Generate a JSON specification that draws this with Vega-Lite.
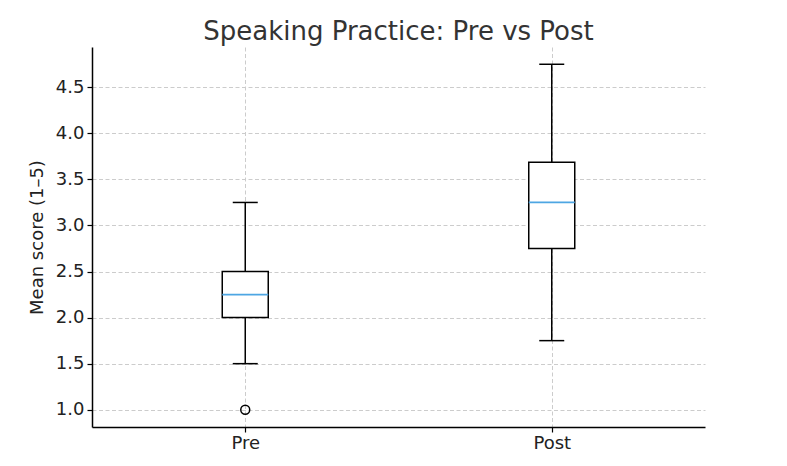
{
  "$schema": "https://vega.github.io/schema/vega-lite/v6.json",
  "autosize": "none",
  "width": 613,
  "height": 380,
  "padding": {"left": 92, "top": 47, "right": 82, "bottom": 39},
  "background": "white",
  "config": {
    "view": {"stroke": null},
    "font": "DejaVu Sans",
    "axis": {
      "domainColor": "#000000",
      "domainWidth": 1.5,
      "tickColor": "#000000",
      "tickWidth": 1.2,
      "tickSize": 5,
      "labelFont": "DejaVu Sans",
      "labelFontSize": 18,
      "labelColor": "#222222",
      "titleFont": "DejaVu Sans",
      "titleFontSize": 18,
      "titleFontWeight": "normal",
      "titleColor": "#222222",
      "grid": true,
      "gridColor": "#cccccc",
      "gridWidth": 1,
      "gridDash": [4, 2.5]
    }
  },
  "title": {
    "text": "Speaking Practice: Pre vs Post",
    "font": "DejaVu Sans",
    "fontSize": 26,
    "fontWeight": "normal",
    "color": "#333333",
    "anchor": "middle",
    "offset": 2
  },
  "datasets": {
    "boxes": [
      {"group": "Pre", "lower": 1.5, "q1": 2.0, "median": 2.25, "q3": 2.5, "upper": 3.25},
      {"group": "Post", "lower": 1.75, "q1": 2.75, "median": 3.25, "q3": 3.6875, "upper": 4.75}
    ],
    "outliers": [
      {"group": "Pre", "value": 1.0}
    ]
  },
  "encoding": {
    "x": {
      "field": "group",
      "type": "nominal",
      "sort": ["Pre", "Post"],
      "scale": {"type": "point", "padding": 0.5, "domain": ["Pre", "Post"]},
      "axis": {"title": null, "labelAngle": 0, "labelPadding": 2}
    }
  },
  "layer": [
    {
      "data": {"name": "boxes"},
      "mark": {"type": "rule", "color": "#000000", "strokeWidth": 1.5},
      "encoding": {
        "y": {
          "field": "lower",
          "type": "quantitative",
          "scale": {"domain": [0.8125, 4.9375], "nice": false, "zero": false},
          "axis": {
            "title": "Mean score (1–5)",
            "values": [1.0, 1.5, 2.0, 2.5, 3.0, 3.5, 4.0, 4.5],
            "format": ".1f",
            "labelPadding": 3,
            "titlePadding": 9
          }
        },
        "y2": {"field": "q1"}
      }
    },
    {
      "data": {"name": "boxes"},
      "mark": {"type": "rule", "color": "#000000", "strokeWidth": 1.5},
      "encoding": {
        "y": {"field": "q3", "type": "quantitative"},
        "y2": {"field": "upper"}
      }
    },
    {
      "data": {"name": "boxes"},
      "mark": {"type": "bar", "size": 46, "fill": "white", "stroke": "#000000", "strokeWidth": 1.5},
      "encoding": {
        "y": {"field": "q1", "type": "quantitative"},
        "y2": {"field": "q3"}
      }
    },
    {
      "data": {"name": "boxes"},
      "mark": {"type": "tick", "size": 46, "thickness": 1.8, "color": "#4ea6e3", "opacity": 1},
      "encoding": {
        "y": {"field": "median", "type": "quantitative"}
      }
    },
    {
      "data": {"name": "boxes"},
      "mark": {"type": "tick", "size": 25, "thickness": 1.5, "color": "#000000", "opacity": 1},
      "encoding": {
        "y": {"field": "lower", "type": "quantitative"}
      }
    },
    {
      "data": {"name": "boxes"},
      "mark": {"type": "tick", "size": 25, "thickness": 1.5, "color": "#000000", "opacity": 1},
      "encoding": {
        "y": {"field": "upper", "type": "quantitative"}
      }
    },
    {
      "data": {"name": "outliers"},
      "mark": {"type": "point", "shape": "circle", "size": 80, "filled": false, "stroke": "#000000", "strokeWidth": 1.5, "opacity": 1},
      "encoding": {
        "y": {"field": "value", "type": "quantitative"}
      }
    }
  ]
}
